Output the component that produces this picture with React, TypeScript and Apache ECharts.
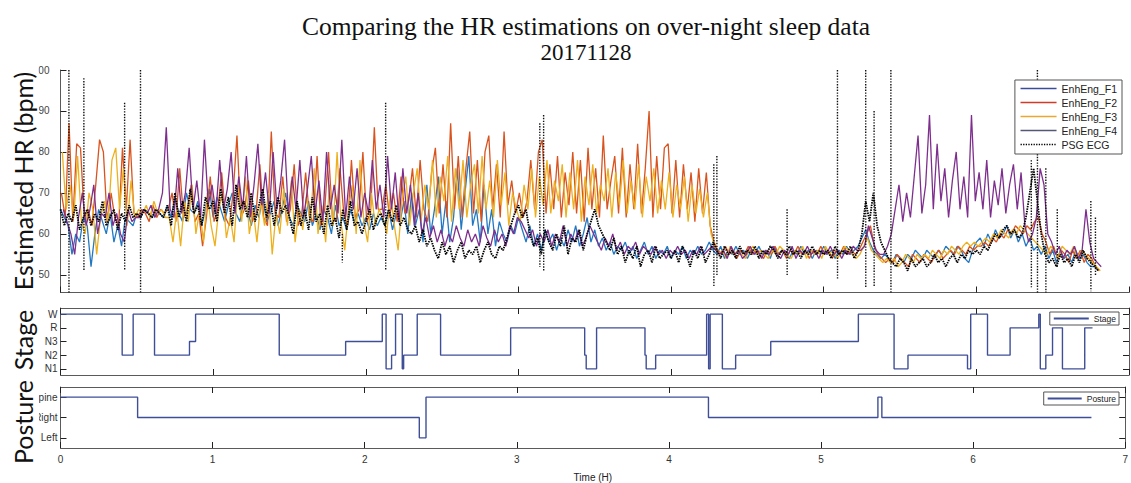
import React, { useEffect, useRef } from "react";
import * as echarts from "echarts";

// ---- time base (hours) ----
const SAMPLE_STEP = 0.025; // spacing of every heart-rate trace
const F_OFFSETS = [0, 0.006, 0.012, 0.018];

// ---- estimated heart rate (bpm), one value per SAMPLE_STEP ----
const enhEngF1 = [
  // 0 - 0.475 h
  66, 64, 62, 55, 60, 58, 64, 62, 52, 60, 66, 63, 60, 65, 58, 62, 57, 64, 63, 62,
  // 0.5 - 0.675 h
  65, 64, 66, 65, 64, 66, 65, 64,
  // 0.7 - 2.075 h
  67, 64, 69, 65, 63, 70, 66, 65, 68, 62, 66, 71,
  64, 69, 66, 63, 67, 70, 65, 63, 68, 66, 62, 67, 64, 69, 63, 65, 68, 62, 66, 70,
  64, 62, 67, 65, 63, 68, 62, 65, 61, 66, 64, 60, 67, 62, 64, 61, 66, 63, 65, 62,
  64, 61, 65, 62,
  // 2.1 - 4.25 h
  64, 62, 66, 61, 65, 63, 68, 60, 70, 62, 66, 58, 72, 60, 66, 74, 60, 68, 58, 64,
  76, 61, 70, 79, 62, 66, 58, 72, 60, 66, 57, 63, 60, 58, 62, 60,
  64, 61, 58, 62, 57, 60, 56, 61, 58, 60, 56, 59, 57, 61, 58, 62, 57, 60, 64, 58,
  61, 57, 59, 56, 58, 55, 57, 56, 58, 55, 57, 54, 56, 58, 55, 57, 54, 56, 55, 57,
  54, 56, 55, 57, 54, 56, 55, 57, 55, 56, 58,
  // 4.275 - 5.2 h
  56, 55, 57, 54, 56, 55, 57, 55, 56, 54, 56, 55, 57, 55, 56, 54, 57, 55, 56, 55,
  54, 56, 55, 57, 55, 56, 54, 56, 55, 57, 55, 56, 54, 56, 55, 57, 55, 56,
  // 5.225 - 5.4 h
  57, 59, 61, 58, 56, 55, 54, 55,
  // 5.425 - 6.0 h
  54, 53, 55, 54, 53, 55, 54, 56, 55, 54, 56, 55, 54, 56, 55, 57, 56, 55, 57, 56, 54, 53, 56, 58,
  // 6.025 - 6.4 h
  59, 57, 60, 58, 61, 59, 60, 62, 59, 61, 58, 60, 57, 59, 56, 57,
  // 6.425 - 6.8 h
  55, 57, 54, 56, 53, 56, 54, 55, 53, 56, 54, 55, 53, 52, 52, 51,
];

const enhEngF2 = [
  // 0 - 0.475 h
  70, 64, 87, 63, 82, 81, 64, 66, 62, 72, 83, 80, 63, 70, 64, 62, 81, 66, 83, 65,
  // 0.5 - 0.675 h
  64, 66, 65, 63, 67, 64, 66, 65,
  // 0.7 - 2.075 h
  66, 70, 63, 76, 64, 66, 72, 63, 65, 57, 64, 74,
  63, 66, 75, 64, 62, 70, 84, 64, 66, 73, 63, 65, 77, 64, 62, 85, 65, 64, 74, 63,
  66, 77, 62, 65, 75, 64, 63, 79, 62, 66, 80, 64, 63, 76, 65, 62, 78, 64, 66, 80,
  63, 65, 86, 66,
  // 2.1 - 4.25 h
  66, 72, 64, 70, 63, 74, 65, 68, 76, 64, 78, 66, 63, 75, 81, 65, 77, 64, 87, 66,
  79, 64, 76, 85, 65, 78, 63, 80, 84, 66, 77, 64, 85, 67, 73, 65,
  70, 64, 68, 78, 66, 80, 83, 65, 77, 66, 79, 64, 75, 67, 80, 65, 78, 63, 81, 66,
  76, 64, 84, 66, 73, 79, 65, 81, 64, 77, 66, 82, 65, 76, 90, 64, 79, 66, 81, 82,
  65, 78, 64, 77, 66, 75, 63, 76, 65, 75, 62,
  // 4.275 - 5.2 h
  58, 56, 55, 57, 55, 56, 54, 56, 55, 57, 55, 56, 55, 54, 56, 55, 57, 55, 56, 54,
  56, 55, 57, 55, 56, 54, 56, 55, 57, 55, 56, 54, 56, 55, 57, 55, 56, 55,
  // 5.225 - 5.4 h
  56, 58, 60, 62, 57, 55, 54, 53,
  // 5.425 - 6.0 h
  54, 53, 55, 54, 53, 52, 55, 54, 53, 55, 54, 53, 55, 56, 54, 55, 56, 55, 57, 56, 55, 57, 56, 57,
  // 6.025 - 6.4 h
  57, 58, 57, 59, 58, 60, 59, 61, 60, 62, 61, 60, 62, 61, 63, 64,
  // 6.425 - 6.8 h
  60, 58, 55, 57, 54, 56, 55, 53, 56, 54, 56, 53, 55, 54, 52, 51,
];

const enhEngF3 = [
  // 0 - 0.475 h
  80, 66, 72, 64, 79, 63, 60, 70, 66, 55, 64, 68, 63, 78, 81, 66, 76, 62, 73, 64,
  // 0.5 - 0.675 h
  66, 65, 67, 64, 68, 65, 66, 64,
  // 0.7 - 2.075 h
  64, 58, 66, 57, 68, 63, 72, 60, 66, 58, 70, 62,
  57, 66, 70, 59, 64, 58, 72, 63, 74, 60, 66, 58, 68, 62, 70, 55, 65, 60, 71, 62,
  73, 58, 66, 61, 69, 63, 76, 60, 67, 58, 72, 62, 80, 63, 56, 66, 72, 60, 78, 63,
  58, 70, 62, 66,
  // 2.1 - 4.25 h
  64, 60, 70, 62, 56, 68, 74, 62, 70, 76, 63, 72, 66, 78, 64, 74, 68, 79, 63, 76,
  66, 78, 64, 72, 77, 65, 79, 66, 73, 64, 78, 67, 75, 62, 70, 66,
  63, 72, 66, 76, 64, 74, 67, 78, 65, 73, 68, 77, 64, 75, 66, 78, 63, 74, 67, 77,
  65, 72, 68, 76, 64, 75, 67, 78, 65, 73, 66, 77, 64, 74, 68, 76, 65, 73, 66, 75,
  64, 72, 66, 74, 63, 72, 65, 71, 64, 70, 60,
  // 4.275 - 5.2 h
  57, 55, 56, 54, 57, 55, 56, 55, 54, 56, 57, 55, 56, 55, 54, 56, 55, 57, 56, 55,
  54, 56, 55, 57, 54, 56, 55, 56, 54, 57, 55, 56, 54, 55, 57, 56, 55, 54,
  // 5.225 - 5.4 h
  55, 57, 59, 56, 55, 54, 53, 54,
  // 5.425 - 6.0 h
  53, 54, 52, 53, 55, 54, 53, 55, 54, 55, 54, 56, 55, 54, 56, 55, 57, 56, 55, 57, 58, 57, 58, 57,
  // 6.025 - 6.4 h
  58, 59, 58, 60, 59, 61, 60, 59, 61, 60, 62, 61, 60, 59, 58, 57,
  // 6.425 - 6.8 h
  56, 55, 57, 56, 54, 57, 56, 55, 57, 54, 56, 55, 54, 53, 52, 51,
];

const enhEngF4 = [
  // 0 - 0.475 h
  66, 63, 60, 55, 64, 70, 62, 66, 72, 60, 65, 64, 70, 62, 65, 60, 58, 66, 63, 64,
  // 0.5 - 0.675 h
  64, 66, 65, 67, 64, 66, 70, 86,
  // 0.7 - 2.075 h
  66, 64, 76, 65, 70, 81, 66, 73, 64, 83, 67, 72,
  65, 78, 66, 71, 80, 65, 74, 66, 79, 64, 72, 82, 67, 75, 65, 80, 66, 73, 83, 65,
  74, 66, 78, 64, 71, 79, 65, 73, 63, 80, 66, 72, 65, 83, 64, 74, 66, 76, 64, 70,
  65, 78, 66, 72,
  // 2.1 - 4.25 h
  64, 79, 66, 75, 63, 76, 65, 72, 62, 70, 60, 64, 59, 62, 58, 61, 57, 60, 58, 62,
  59, 57, 61, 58, 60, 57, 62, 59, 57, 61, 58, 60, 57, 62, 60, 64,
  63, 61, 59, 61, 57, 60, 58, 61, 57, 60, 58, 62, 57, 60, 58, 61, 57, 59, 62, 60,
  58, 56, 59, 57, 60, 56, 58, 55, 57, 56, 58, 55, 57, 56, 55, 57, 55, 56, 54, 56,
  55, 57, 55, 56, 54, 56, 55, 57, 55, 56, 57,
  // 4.275 - 5.2 h
  56, 55, 56, 54, 57, 55, 56, 54, 55, 57, 55, 56, 54, 56, 55, 57, 55, 54, 56, 55,
  57, 54, 56, 55, 57, 55, 56, 54, 56, 55, 57, 55, 56, 54, 56, 55, 57, 56,
  // 5.225 - 5.4 h
  56, 57, 62, 59, 56, 55, 55, 57,
  // 5.425 - 6.0 h
  60, 66, 72, 63, 70, 64, 74, 84, 65, 72, 89, 66, 82, 68, 76, 64, 73, 80, 66, 74, 64, 89, 68, 75,
  // 6.025 - 6.4 h
  66, 78, 64, 73, 67, 76, 65, 72, 77, 66, 75, 62, 58, 60, 64, 76,
  // 6.425 - 6.8 h
  72, 60, 58, 55, 57, 54, 56, 55, 57, 54, 56, 66, 58, 54, 53, 52,
];

// ---- PSG ECG heart rate (bpm), one value per SAMPLE_STEP ----
const psgEcg = [
  66, 62, 65, 63, 67, 61, 64, 66, 62, 65, 63, 68, 62, 64, 66, 61, 65, 63, 67, 64,
  65, 64, 66, 65, 64, 66, 65, 64,
  67, 62, 70, 64, 68, 63, 71, 65, 67, 62, 69, 66,
  68, 63, 71, 65, 69, 62, 72, 66, 68, 64, 70, 63, 67, 71, 64, 68, 62, 69, 65, 67,
  64, 60, 68, 62, 66, 61, 69, 63, 65, 60, 67, 62, 64, 59, 66, 61, 68, 62, 63, 60,
  63, 66, 61, 64,
  65, 62, 66, 63, 67, 62, 64, 61,
  60, 62, 58, 61, 57, 59,
  56, 54, 58, 55, 57, 53, 56, 58, 54, 56, 55, 57, 53, 56, 58, 55, 54, 57, 56, 59,
  62, 65,
  67, 64, 66,
  60, 57, 59, 55, 61, 58, 56, 60, 57, 62, 55, 59, 58, 61, 56, 60,
  63, 66, 62, 60,
  58, 56, 59,
  55, 57, 53, 56, 54, 57, 52, 55, 56, 53, 57, 54, 55, 56,
  54, 56, 53, 57, 55, 52, 56, 54, 57, 53, 55, 58,
  56, 54, 57, 55, 56, 54, 57, 55, 56, 55, 57, 54, 56, 55, 57, 56, 54, 56, 55, 57, 55, 56, 54, 56, 55, 57, 55, 56,
  55, 56, 54, 57, 55, 56, 55, 57, 54, 56,
  60, 68, 63, 70,
  62, 58, 56, 54,
  53, 52, 54, 53, 51, 54, 52, 53, 54, 52, 53, 55, 53, 54, 52, 54, 55, 53, 55, 54, 56, 55,
  56, 55, 57, 56,
  58, 60, 59, 61, 62, 60, 61, 59, 60,
  64, 70, 76, 68, 60,
  55, 53, 54, 52, 55, 53, 54, 52, 55, 53, 56, 54, 53, 52, 51,
];

// ECG artefacts: [time (h), peak bpm, trough bpm]
const ecgArtefacts = [
  [0.055, 100, 45.7], [0.153, 98, 51], [0.42, 92, 51], [0.524, 100, 45.7],
  [1.846, 60, 53], [2.13, 92, 51], [3.14, 87, 52], [3.165, 89, 51],
  [4.28, 77, 47], [4.3, 79, 50], [4.76, 66, 50], [5.09, 100, 49],
  [5.275, 100, 47], [5.33, 90, 47], [5.44, 100, 45.7], [6.36, 78, 47],
  [6.4, 100, 45.7], [6.455, 76, 45.7], [6.53, 66, 52], [6.75, 68, 46], [6.78, 64, 50],
];

// ---- hypnogram: [start (h), stage] ----
const stageNames = ["N1", "N2", "N3", "R", "W"];
const stageSteps: [number, string][] = [
  [0, "W"], [0.404, "N2"], [0.476, "W"], [0.616, "N2"], [0.845, "N3"], [0.885, "W"],
  [1.433, "N2"], [1.868, "N3"], [2.108, "W"], [2.133, "N1"], [2.169, "N2"], [2.195, "W"],
  [2.239, "N1"], [2.248, "N2"], [2.337, "W"], [2.49, "N2"], [2.949, "R"], [3.434, "N2"],
  [3.444, "N1"], [3.512, "R"], [3.829, "N2"], [3.837, "N1"], [3.899, "N2"], [4.233, "W"],
  [4.246, "N1"], [4.256, "W"], [4.336, "N1"], [4.423, "N2"], [4.653, "N3"], [5.227, "W"],
  [5.461, "N1"], [5.552, "N2"], [5.942, "N1"], [5.963, "W"], [6.073, "N2"], [6.221, "R"],
  [6.409, "W"], [6.419, "N1"], [6.455, "N2"], [6.499, "R"], [6.564, "N1"], [6.71, "R"],
  [6.761, "R"],
];

// ---- body posture: [start (h), posture] ----
const postureNames = ["Left", "Right", "Supine"];
const postureSteps: [number, string][] = [
  [0, "Supine"], [0.507, "Right"], [2.359, "Left"], [2.403, "Supine"],
  [4.26, "Right"], [5.374, "Supine"], [5.4, "Right"], [6.778, "Right"],
];

const hrTicks = [50, 60, 70, 80, 90, 100];
const hrRange = [45.7, 100];
const seriesNames = ["EnhEng_F1", "EnhEng_F2", "EnhEng_F3", "EnhEng_F4"];
const seriesColors = ["#2278c2", "#d9531e", "#edb120", "#7e2f8e"];
const legendColors = ["#3c4c9c", "#d23a2a", "#e9a832", "#56567a"];

const toPairs = (vals: number[], step: number, offset: number) =>
  vals.map((v, i) => [+(i * step + offset).toFixed(4), v]);

// each artefact is a thin vertical stroke, separated by gaps
function buildArtefacts() {
  const pts: (number | string)[][] = [];
  ecgArtefacts.forEach(([t, hi, lo]) => {
    pts.push([t, hi], [t + 0.0005, lo], [t + 0.001, "-"]);
  });
  return pts;
}

const AXIS = "#5a5a5a";
const LABEL = "#333";

function frameX(gridIndex: number, position: "top" | "bottom", labels: boolean) {
  return {
    type: "value",
    gridIndex,
    position,
    min: 0,
    max: 7,
    interval: 1,
    axisLine: { show: true, onZero: false, lineStyle: { color: AXIS, width: 1 } },
    axisTick: { show: true, inside: true, length: 6, lineStyle: { color: "#222" } },
    axisLabel: labels
      ? { show: true, color: LABEL, fontSize: 10, fontFamily: "Liberation Sans", margin: 6 }
      : { show: false },
    splitLine: { show: false },
  };
}

function frameY(gridIndex: number, position: "left" | "right", min: number, max: number,
  ticks: number[], names: string[] | null) {
  return {
    type: "value",
    gridIndex,
    position,
    min,
    max,
    axisLine: { show: true, onZero: false, lineStyle: { color: AXIS, width: 1 } },
    axisTick: { show: true, inside: true, length: 6, customValues: ticks, lineStyle: { color: "#222" } },
    axisLabel: names
      ? {
          show: true,
          customValues: ticks,
          color: LABEL,
          fontSize: 10,
          fontFamily: "Liberation Sans",
          margin: 3,
          formatter: (v: number) => names[Math.round(v) - 1],
        }
      : { show: false },
    splitLine: { show: false },
  };
}

export default function App() {
  const ref = useRef<HTMLDivElement>(null);

  useEffect(() => {
    if (!ref.current) return;
    const chart = echarts.init(ref.current, null, { renderer: "svg" });

    const hrSeries = [enhEngF1, enhEngF2, enhEngF3, enhEngF4].map((vals, k) => ({
      name: seriesNames[k],
      type: "line",
      xAxisIndex: 0,
      yAxisIndex: 0,
      data: toPairs(vals, SAMPLE_STEP, F_OFFSETS[k]),
      showSymbol: false,
      symbol: "none",
      color: seriesColors[k],
      lineStyle: { color: seriesColors[k], width: 1.3 },
      z: 2 + k,
    }));

    const stageData = stageSteps.map(([t, s]) => [t, stageNames.indexOf(s) + 1]);
    const postureData = postureSteps.map(([t, p]) => [t, postureNames.indexOf(p) + 1]);

    // rotated panel title over a white strip that masks the start of the tick labels
    const panelTitle = (text: string, cy: number, top: number, height: number, maskRight: number) => ({
      type: "group",
      z: 200,
      children: [
        {
          type: "rect",
          z: 199,
          shape: { x: 0, y: top, width: maskRight, height },
          style: { fill: "#fff" },
        },
        {
          type: "text",
          z: 200,
          x: 23,
          y: cy,
          rotation: Math.PI / 2,
          style: {
            text,
            font: "25px Lato",
            fill: "#111",
            align: "center",
            verticalAlign: "middle",
          },
        },
      ],
    });

    const hiddenSymbol = { opacity: 0 };

    chart.setOption({
      animation: false,
      backgroundColor: "#fff",
      title: [
        {
          text: "Comparing the HR estimations on over-night sleep data",
          left: 581,
          top: 6,
          textAlign: "center",
          textStyle: {
            fontFamily: "Liberation Serif",
            fontSize: 25.5,
            fontWeight: "normal",
            color: "#111",
            lineHeight: 30,
          },
        },
        {
          text: "20171128",
          left: 581,
          top: 34,
          textAlign: "center",
          textStyle: {
            fontFamily: "Liberation Serif",
            fontSize: 23,
            fontWeight: "normal",
            color: "#111",
            lineHeight: 26,
          },
        },
      ],
      legend: [
        {
          orient: "vertical",
          right: 9,
          top: 80,
          itemWidth: 36,
          itemHeight: 12,
          itemGap: 3,
          padding: [3, 5, 4, 5],
          borderColor: "#555",
          borderWidth: 1,
          backgroundColor: "#fff",
          z: 50,
          itemStyle: hiddenSymbol,
          textStyle: { fontSize: 10.5, fontFamily: "Liberation Sans", color: "#222" },
          data: [
            ...seriesNames.map((n, k) => ({
              name: n,
              itemStyle: hiddenSymbol,
              lineStyle: { color: legendColors[k], width: 1.3 },
            })),
            { name: "PSG ECG", itemStyle: hiddenSymbol, lineStyle: { width: 1.3, type: "dotted" } },
          ],
        },
        {
          right: 12,
          top: 312,
          itemWidth: 35,
          itemHeight: 9,
          padding: [2, 3, 2, 3],
          borderColor: "#555",
          borderWidth: 1,
          backgroundColor: "#fff",
          z: 50,
          itemStyle: hiddenSymbol,
          textStyle: { fontSize: 8.5, fontFamily: "Liberation Sans", color: "#222" },
          data: [{ name: "Stage", itemStyle: hiddenSymbol }],
        },
        {
          right: 12,
          top: 392,
          itemWidth: 34,
          itemHeight: 9,
          padding: [2, 3, 2, 3],
          borderColor: "#555",
          borderWidth: 1,
          backgroundColor: "#fff",
          z: 50,
          itemStyle: hiddenSymbol,
          textStyle: { fontSize: 8.5, fontFamily: "Liberation Sans", color: "#222" },
          data: [{ name: "Posture", itemStyle: hiddenSymbol }],
        },
      ],
      grid: [
        { left: 60.5, right: 2, top: 70, height: 222.5 },
        { left: 60.5, right: 2, top: 308, height: 67 },
        { left: 60.5, right: 2, top: 387, height: 65.5 },
      ],
      xAxis: [
        frameX(0, "bottom", false),
        frameX(1, "bottom", false),
        frameX(1, "top", false),
        {
          ...frameX(2, "bottom", true),
          name: "Time (H)",
          nameLocation: "middle",
          nameGap: 24,
          nameTextStyle: { color: "#222", fontSize: 10, fontFamily: "Liberation Sans" },
        },
        frameX(2, "top", false),
      ],
      yAxis: [
        {
          ...frameY(0, "left", hrRange[0], hrRange[1], hrTicks, null),
          axisLabel: {
            show: true,
            customValues: hrTicks,
            color: "#444",
            fontSize: 10,
            fontFamily: "Liberation Sans",
            margin: 11,
          },
        },
        frameY(1, "left", 0.55, 5.45, [1, 2, 3, 4, 5], stageNames),
        frameY(1, "right", 0.55, 5.45, [1, 2, 3, 4, 5], null),
        frameY(2, "left", 0.5, 3.5, [1, 2, 3], postureNames),
        frameY(2, "right", 0.5, 3.5, [1, 2, 3], null),
      ],
      series: [
        ...hrSeries,
        {
          name: "PSG ECG",
          type: "line",
          xAxisIndex: 0,
          yAxisIndex: 0,
          data: toPairs(psgEcg, SAMPLE_STEP, 0),
          showSymbol: false,
          symbol: "none",
          color: "#111",
          lineStyle: { color: "#000", width: 1.8, type: [1.5, 1] },
          z: 10,
        },
        {
          name: "PSG ECG",
          type: "line",
          xAxisIndex: 0,
          yAxisIndex: 0,
          data: buildArtefacts(),
          connectNulls: false,
          showSymbol: false,
          symbol: "none",
          color: "#111",
          lineStyle: { color: "#111", width: 1.4, type: "dotted" },
          z: 11,
        },
        {
          name: "Stage",
          type: "line",
          step: "end",
          xAxisIndex: 1,
          yAxisIndex: 1,
          data: stageData,
          showSymbol: false,
          symbol: "none",
          color: "#3f4f97",
          lineStyle: { color: "#3f4f97", width: 1.4 },
        },
        {
          name: "Posture",
          type: "line",
          step: "end",
          xAxisIndex: 3,
          yAxisIndex: 3,
          data: postureData,
          showSymbol: false,
          symbol: "none",
          color: "#3f4f97",
          lineStyle: { color: "#3f4f97", width: 1.4 },
        },
      ],
      graphic: [
        panelTitle("Estimated HR (bpm)", 181, 62, 234, 38.5),
        panelTitle("Stage", 340, 300, 80, 36),
        panelTitle("Posture", 422, 382, 90, 39),
      ],
    });

    return () => chart.dispose();
  }, []);

  return (
    <div
      ref={ref}
      style={{ position: "fixed", left: 0, top: 0, width: 1131, height: 483, background: "#fff" }}
    />
  );
}
